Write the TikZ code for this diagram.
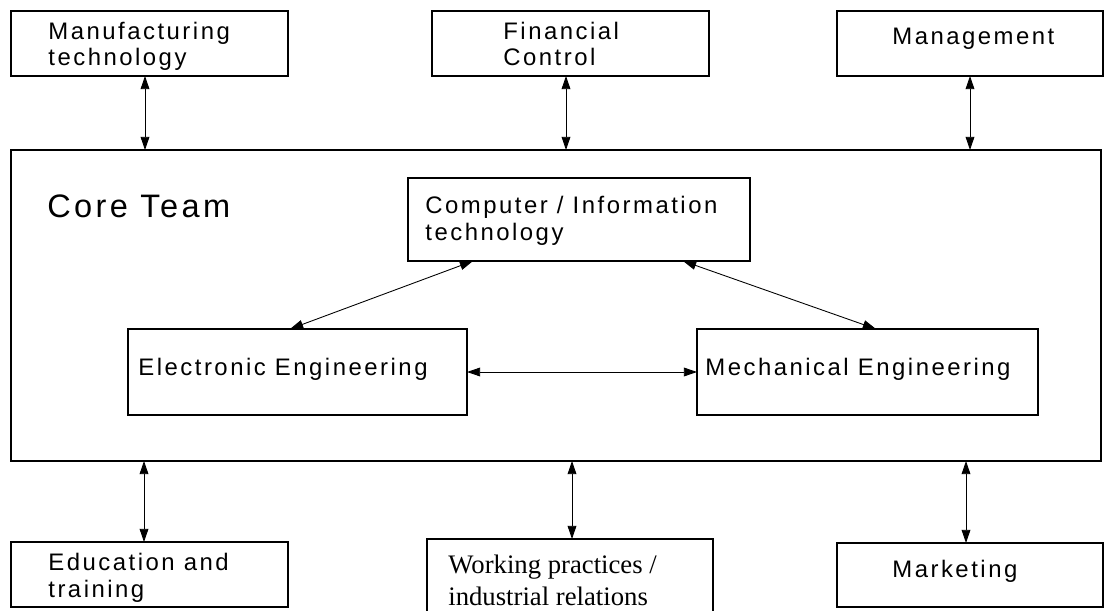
\documentclass[tikz,border=0pt]{standalone}
\usepackage{fontspec}
\setmainfont{Liberation Sans}
\newfontfamily\lsans{Liberation Sans}[LetterSpace=10.5]
\newfontfamily\lserif{Liberation Serif}
\usetikzlibrary{arrows.meta}
\newcommand\mybox[5]{\node[box, minimum width={(#4-#2)*0.02cm}, minimum height={(#5-#3)*0.02cm}] (#1) at (#2,#3) {};}
\begin{document}
\begin{tikzpicture}[x=0.02cm,y=-0.02cm,
  box/.style={draw=black, line width=0.9pt, inner sep=0pt, outer sep=0pt, anchor=north west},
  txt/.style={inner sep=0pt, anchor=base west, align=left, font=\lsans\fontsize{13.6}{15.2}\selectfont},
  bigtxt/.style={inner sep=0pt, anchor=base west, font=\lsans\fontsize{18.5}{20}\selectfont},
  sertxt/.style={inner sep=0pt, anchor=base west, align=left, font=\lserif\fontsize{15.2}{18}\selectfont},
  arr/.style={line width=0.5pt, {Triangle[length=7.5pt,width=5pt]}-{Triangle[length=7.5pt,width=5pt]}}]
\useasboundingbox (0,0) rectangle (1112,611);
\clip (0,0) rectangle (1112,611);
% boxes
\mybox{mfg}{11}{11}{288}{76}
\mybox{fin}{432}{11}{709}{76}
\mybox{mgmt}{837}{11}{1103}{76}
\mybox{core}{11}{150}{1101}{461}
\mybox{comp}{408}{178}{750}{261}
\mybox{elec}{128}{329}{467}{415}
\mybox{mech}{697}{329}{1038}{415}
\mybox{edu}{11}{542}{288}{607}
\mybox{work}{427}{539}{713}{630}
\mybox{mkt}{837}{543}{1103}{607}
% texts (base anchor = baseline of last line)
\node[txt] (mfgT) at (48,66) {Manufacturing\\technology};
\node[txt] (finT) at (503,66) {Financial\\Control};
\node[txt] (mgmtT) at (892,45) {Management};
\node[bigtxt] (coreT) at (47,217) {Core Team};
\node[txt] (compT) at (425,240) {Computer / Information\\technology};
\node[txt] (elecT) at (138,375) {Electronic Engineering};
\node[txt] (mechT) at (705,375) {Mechanical Engineering};
\node[txt] (eduT) at (48,597) {Education and\\training};
\node[sertxt] (workT) at (448,605) {Working practices /\\industrial relations};
\node[txt] (mktT) at (892,577) {Marketing};
% connector x positions
\coordinate (a1) at (145,0);
\coordinate (a2) at (566,0);
\coordinate (a3) at (970,0);
\coordinate (b1) at (144,0);
\coordinate (b2) at (572,0);
\coordinate (b3) at (966,0);
\coordinate (d1) at (473,0);
\coordinate (d2) at (290,0);
\coordinate (d3) at (683,0);
\coordinate (d4) at (876,0);
% connectors
\draw[arr] (mfg.south -| a1) -- (core.north -| a1);
\draw[arr] (fin.south -| a2) -- (core.north -| a2);
\draw[arr] (mgmt.south -| a3) -- (core.north -| a3);
\draw[arr] (core.south -| b1) -- (edu.north -| b1);
\draw[arr] (core.south -| b2) -- (work.north -| b2);
\draw[arr] (core.south -| b3) -- (mkt.north -| b3);
\draw[arr] (comp.south -| d1) -- (elec.north -| d2);
\draw[arr] (comp.south -| d3) -- (mech.north -| d4);
\draw[arr] (elec.east) -- (mech.west);
\end{tikzpicture}
\end{document}
